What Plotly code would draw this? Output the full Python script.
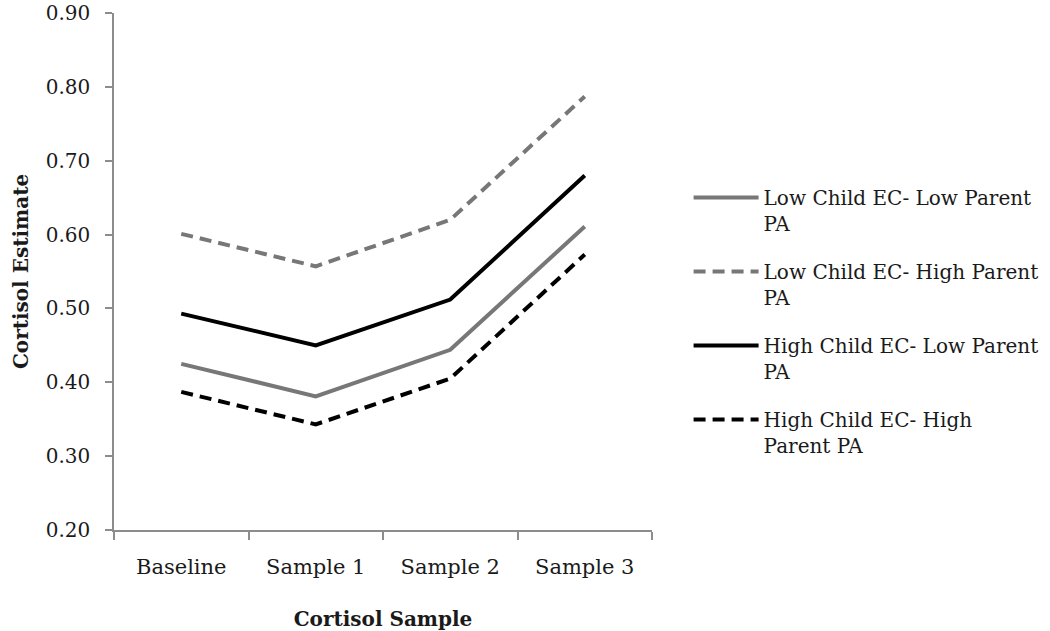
import plotly.graph_objects as go

categories = ["Baseline", "Sample 1", "Sample 2", "Sample 3"]
low_ec_low_pa = [0.425, 0.381, 0.444, 0.611]
low_ec_high_pa = [0.601, 0.557, 0.620, 0.787]
high_ec_low_pa = [0.493, 0.450, 0.512, 0.680]
high_ec_high_pa = [0.387, 0.343, 0.405, 0.573]
y_tick_values = [0.20, 0.30, 0.40, 0.50, 0.60, 0.70, 0.80, 0.90]
y_tick_labels = ["0.20", "0.30", "0.40", "0.50", "0.60", "0.70", "0.80", "0.90"]

series_names = [
    "Low Child EC- Low Parent<br>PA",
    "Low Child EC- High Parent<br>PA",
    "High Child EC- Low Parent<br>PA",
    "High Child EC- High<br>Parent PA",
]
series_values = [low_ec_low_pa, low_ec_high_pa, high_ec_low_pa, high_ec_high_pa]
series_colors = ["#777777", "#777777", "#000000", "#000000"]
series_dash = ["solid", "12px,7px", "solid", "12px,7px"]

FONT = "DejaVu Serif"
TXT = "#1a1a1a"

fig = go.Figure()
for i, (name, vals, col, dash) in enumerate(zip(series_names, series_values, series_colors, series_dash)):
    fig.add_trace(go.Scatter(
        x=categories, y=vals, name=name, mode="lines",
        line=dict(color=col, width=4, dash=dash),
        legendgroup=f"g{i}",
    ))

fig.update_layout(
    width=1050, height=631,
    margin=dict(l=114, r=398, t=13, b=101, autoexpand=False),
    paper_bgcolor="white", plot_bgcolor="white",
    font=dict(family=FONT, size=21, color=TXT),
    showlegend=True,
    legend=dict(
        x=1.068, y=0.681, xanchor="left", yanchor="top",
        font=dict(family=FONT, size=20, color=TXT),
        valign="top", tracegroupgap=19, itemwidth=65,
        bgcolor="rgba(0,0,0,0)",
    ),
    xaxis=dict(
        type="category", tickson="boundaries", range=[-0.5, 3.5],
        showline=True, linecolor="#8c8c8c", linewidth=1.5,
        ticks="outside", ticklen=8, tickcolor="#8c8c8c", tickwidth=1.5,
        showgrid=False, zeroline=False,
        tickfont=dict(family=FONT, size=21, color=TXT),
        ticklabelstandoff=17,
        title=dict(text="<b>Cortisol Sample</b>", font=dict(family=FONT, size=20, color=TXT), standoff=34),
        automargin=False,
    ),
    yaxis=dict(
        range=[0.2, 0.9], tickvals=y_tick_values, ticktext=y_tick_labels,
        ticklabeloverflow="allow",
        showline=True, linecolor="#8c8c8c", linewidth=1.5,
        ticks="outside", ticklen=7, tickcolor="#8c8c8c", tickwidth=1.5,
        showgrid=False, zeroline=False,
        tickfont=dict(family=FONT, size=20, color=TXT),
        ticklabelstandoff=11,
        title=dict(text="<b>Cortisol Estimate</b>", font=dict(family=FONT, size=20, color=TXT), standoff=12),
        automargin=False,
    ),
)

fig.write_html("out.html", config={"displayModeBar": False},
               post_script="document.body.style.margin='0';")
